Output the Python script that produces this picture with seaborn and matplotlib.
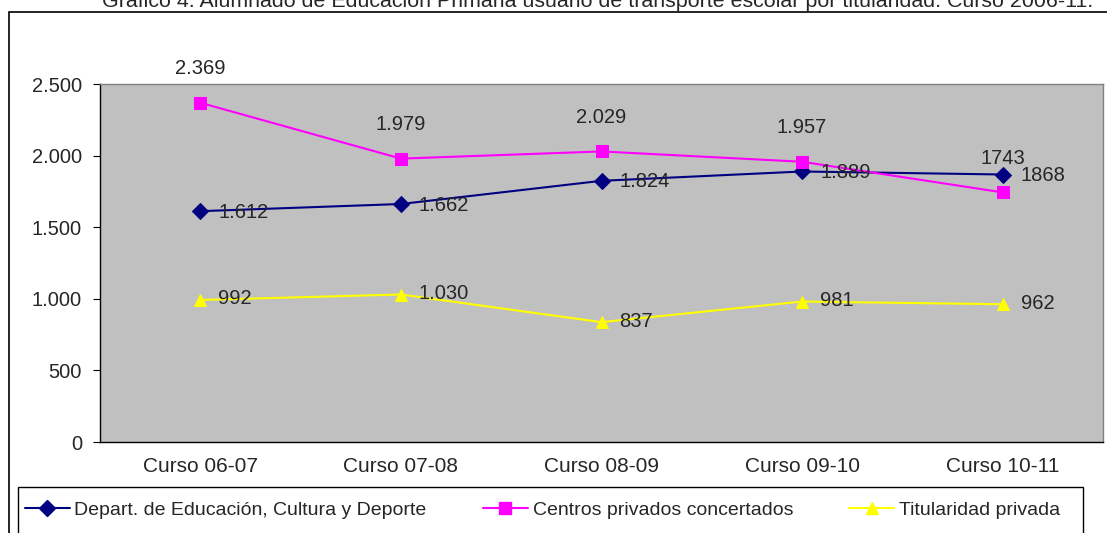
import pandas as pd
import seaborn as sns
import matplotlib.pyplot as plt
from matplotlib.patches import Rectangle
from matplotlib.ticker import FuncFormatter

# datos
cursos = ['Curso 06-07', 'Curso 07-08', 'Curso 08-09', 'Curso 09-10', 'Curso 10-11']
series = ['Depart. de Educación, Cultura y Deporte', 'Centros privados concertados', 'Titularidad privada']
depart = [1612, 1662, 1824, 1889, 1868]
concertados = [2369, 1979, 2029, 1957, 1743]
privada = [992, 1030, 837, 981, 962]
depart_lab = ['1.612', '1.662', '1.824', '1.889', '1868']
concertados_lab = ['2.369', '1.979', '2.029', '1.957', '1743']
privada_lab = ['992', '1.030', '837', '981', '962']

sns.set_style('white')
plt.rcParams['font.family'] = ['Liberation Sans', 'DejaVu Sans']

df = pd.DataFrame({
    'curso': cursos * 3,
    'valor': depart + concertados + privada,
    'serie': [series[0]] * 5 + [series[1]] * 5 + [series[2]] * 5,
})

colores = {series[0]: '#000080', series[1]: '#FF00FF', series[2]: '#FFFF00'}
marcas = {series[0]: 'D', series[1]: 's', series[2]: '^'}

W, H = 1107, 533
fig = plt.figure(figsize=(W / 100, H / 100), dpi=100)
ax = fig.add_axes([100 / W, 1 - 442 / H, 1003 / W, 358 / H])
ax.set_facecolor('#C0C0C0')

sns.lineplot(data=df, x='curso', y='valor', hue='serie', style='serie',
             palette=colores, markers=marcas, dashes=False, markersize=8.5,
             linewidth=1.5, sort=False, ax=ax, legend=False)
for line in ax.lines:
    line.set_markeredgecolor(line.get_color())

ax.set_xlim(-0.5, 4.5)
ax.set_ylim(0, 2500)
ax.set_yticks(range(0, 2501, 500))
ax.yaxis.set_major_formatter(FuncFormatter(lambda v, p: f'{int(v):,}'.replace(',', '.')))
ax.set_xlabel('')
ax.set_ylabel('')
ax.set_xticks(range(5))
ax.set_xticks([i - 0.5 for i in range(6)], minor=True)
ax.tick_params(axis='x', which='major', length=0, pad=11, labelsize=15)
ax.tick_params(axis='x', which='minor', length=5, direction='out', color='black')
ax.tick_params(axis='y', length=5, direction='out', color='black', pad=8, labelsize=14.5, left=True)
for s in ['left', 'bottom']:
    ax.spines[s].set_color('black')
    ax.spines[s].set_linewidth(1.0)
for s in ['top', 'right']:
    ax.spines[s].set_color('#808080')
    ax.spines[s].set_linewidth(1.0)

# etiquetas de datos
for i in range(5):
    ax.annotate(depart_lab[i], (i, depart[i]), xytext=(18, -1), textcoords='offset pixels',
                ha='left', va='center', fontsize=14.5)
    ax.annotate(concertados_lab[i], (i, concertados[i]), xytext=(0, 34), textcoords='offset pixels',
                ha='center', va='center', fontsize=14.5)
    ax.annotate(privada_lab[i], (i, privada[i]), xytext=(18, 1), textcoords='offset pixels',
                ha='left', va='center', fontsize=14.5)

# marco del gráfico y título
fig.patches.append(Rectangle((8.5 / W, -0.1), 1.2, 1 - 12 / H + 0.1, transform=fig.transFigure,
                             fill=False, edgecolor='black', linewidth=1.2))
fig.text(598 / W, 1 - 7 / H, 'Gráfico 4. Alumnado de Educación Primaria usuario de transporte escolar por titularidad. Curso 2006-11.',
         ha='center', va='baseline', fontsize=15.4)

# leyenda (marco dibujado aparte)
fig.patches.append(Rectangle((18 / W, -0.1), (1083 - 18) / W, 1 - 487 / H + 0.1, transform=fig.transFigure,
                             fill=False, edgecolor='black', linewidth=1.0))
handles = [plt.Line2D([], [], color=colores[s], marker=marcas[s], markersize=8,
                      markeredgecolor=colores[s], linewidth=1.5) for s in series]
leg = fig.legend(handles, series, loc='center left', bbox_to_anchor=(18 / W, 1 - 510 / H),
                 ncol=3, frameon=False, fontsize=14, handlelength=2.3,
                 columnspacing=2.9, borderpad=0.35, handletextpad=0.25, borderaxespad=0)

fig.savefig('out.png', dpi=100)
